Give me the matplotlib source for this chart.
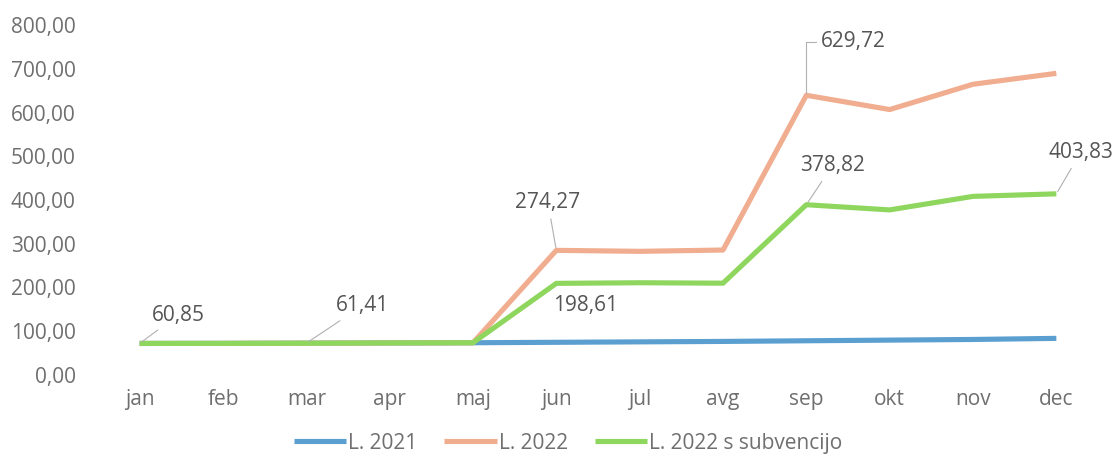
import matplotlib.pyplot as plt
import matplotlib.transforms as mtransforms
import numpy as np

months = ['jan', 'feb', 'mar', 'apr', 'maj', 'jun', 'jul', 'avg', 'sep', 'okt', 'nov', 'dec']
l2021 = [60.85, 61.0, 61.41, 62.0, 62.5, 63.5, 64.5, 65.5, 67.0, 68.5, 70.0, 72.5]
l2022 = [60.85, 61.0, 61.41, 62.0, 62.5, 274.27, 272.0, 275.0, 629.72, 597.0, 655.0, 680.0]
l2022_sub = [60.85, 61.0, 61.41, 62.0, 62.5, 198.61, 200.0, 199.0, 378.82, 367.0, 398.0, 403.83]
yticks = [0, 100, 200, 300, 400, 500, 600, 700, 800]

plt.rcParams['font.family'] = ['Open Sans', 'DejaVu Sans']
grey = '#6f6f6f'

fig = plt.figure(figsize=(11.14, 4.54), dpi=100)
ax = fig.add_axes([98 / 1114, 1 - 370 / 454, 1000 / 1114, 349 / 454])

x = np.arange(len(months))
ax.plot(x, l2021, color='#5b9fd0', lw=3.7, label='L. 2021', solid_capstyle='butt')
ax.plot(x, l2022, color='#f0ad8f', lw=3.7, label='L. 2022', solid_capstyle='butt')
ax.plot(x, l2022_sub, color='#8fd65e', lw=3.7, label='L. 2022 s subvencijo', solid_capstyle='butt')

ax.set_xlim(-0.5, 11.5)
ax.set_ylim(0, 800)
ax.set_yticks(yticks)
ax.set_yticklabels([f'{v:.2f}'.replace('.', ',') for v in yticks])
ax.set_xticks(x)
ax.set_xticklabels(months)
ax.tick_params(length=0, labelsize=15, colors=grey)
ax.tick_params(axis='y', pad=16)
ax.tick_params(axis='x', pad=14)
for s in ax.spines.values():
    s.set_visible(False)

# y tick labels sit a few pixels low in the reference
off = mtransforms.ScaledTranslation(0, -0.045, fig.dpi_scale_trans)
for lbl in ax.get_yticklabels():
    lbl.set_transform(lbl.get_transform() + off)

lead = dict(arrowstyle='-', color='#b0b0b0', lw=0.8, shrinkA=2, shrinkB=2)
labels = [
    (0, l2022_sub[0], 0.46, 126, 'center', lead),
    (2, l2022_sub[2], 2.67, 147, 'center', lead),
    (5, l2022[5], 4.90, 383, 'center', lead),
    (5, l2022_sub[5], 5.35, 147, 'center', None),
    (8, l2022[8], 8.18, 752, 'left', dict(lead, connectionstyle='angle,angleA=0,angleB=90,rad=0')),
    (8, l2022_sub[8], 8.31, 468, 'center', lead),
    (11, l2022_sub[11], 11.29, 498, 'center', lead),
]
for xi, yi, tx, ty, ha, ap in labels:
    ax.annotate(f'{yi:.2f}'.replace('.', ','), xy=(xi, yi), xytext=(tx, ty),
                ha=ha, va='center', fontsize=15, color='#555555',
                arrowprops=ap, annotation_clip=False)

fig.legend(loc='center', bbox_to_anchor=(0.51, 0.024), ncol=3, frameon=False,
           fontsize=15, labelcolor=grey, handlelength=2.5, handletextpad=0.1,
           columnspacing=1.3)

fig.savefig('out.png', dpi=100, facecolor='white')
